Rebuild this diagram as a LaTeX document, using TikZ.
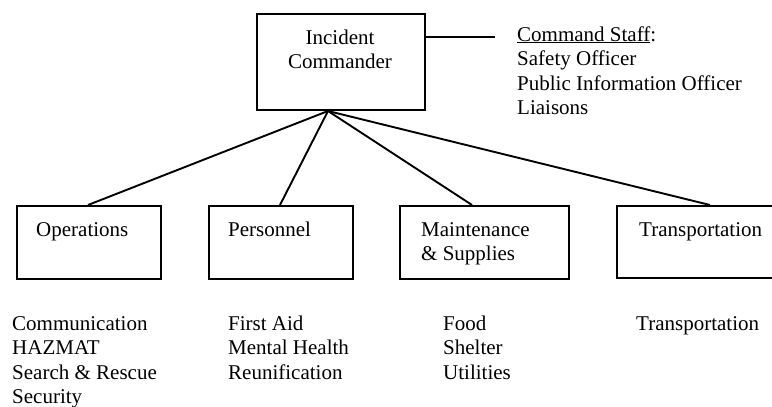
\documentclass[tikz,border=0pt]{standalone}
\usepackage{fontspec}
\setmainfont{Liberation Serif}
\newcommand\linesleft[1]{\begin{tabular}[t]{@{}l@{}}#1\end{tabular}}
\newcommand\linescenter[1]{\begin{tabular}[t]{@{}c@{}}#1\end{tabular}}
\begin{document}
\begin{tikzpicture}[x=1pt,y=-1pt,
  unit/.style={draw=black, line width=2pt, rectangle, inner sep=0pt, anchor=north west},
  label/.style={inner sep=0pt, anchor=base west, font=\fontsize{21}{24.5}\selectfont},
  clabel/.style={inner sep=0pt, anchor=base, font=\fontsize{21}{24.5}\selectfont},
  link/.style={line width=1.9pt}]
\useasboundingbox (0,0) rectangle (772,407);
\clip (0,0) rectangle (772,407);
\fill[white] (0,0) rectangle (772,407);

% command box and command staff
\node[unit, minimum width=168pt, minimum height=96pt] (ic) at (256,13) {};
\node[clabel] (ictext) at (340,44) {\linescenter{Incident\\Commander}};
\coordinate (staffend) at (495,37);
\draw[link] ([yshift=-24pt]ic.north east) -- (staffend);
\node[label] (staff) at (517,41) {\linesleft{\underline{Command Staff}:\\Safety Officer\\Public Information Officer\\Liaisons}};

% section boxes
\node[unit, minimum width=144pt, minimum height=73pt] (ops) at (16,205) {};
\node[unit, minimum width=144pt, minimum height=73pt] (pers) at (208,205) {};
\node[unit, minimum width=169pt, minimum height=73pt] (maint) at (399,205) {};
\node[unit, minimum width=200pt, minimum height=72pt] (trans) at (616,205) {};

\node[label] (opstext) at (36,236) {Operations};
\node[label] (perstext) at (228,236) {Personnel};
\node[label] (mainttext) at (421,236) {\linesleft{Maintenance\\\& Supplies}};
\node[label] (transtext) at (639,236) {Transportation};

% connectors from the command box
\coordinate (apex) at ([xshift=72pt]ic.south west);
\draw[link] (apex) -- ([xshift=72pt]ops.north west);
\draw[link] (apex) -- ([xshift=72pt]pers.north west);
\draw[link] (apex) -- ([xshift=73pt]maint.north west);
\draw[link] (apex) -- ([xshift=94pt]trans.north west);

% duties under each section
\node[label] (opslist) at (12,330) {\linesleft{Communication\\HAZMAT\\Search \& Rescue\\Security}};
\node[label] (perslist) at (228,330) {\linesleft{First Aid\\Mental Health\\Reunification}};
\node[label] (maintlist) at (443,330) {\linesleft{Food\\Shelter\\Utilities}};
\node[label] (translist) at (636,330) {Transportation};
\end{tikzpicture}
\end{document}
